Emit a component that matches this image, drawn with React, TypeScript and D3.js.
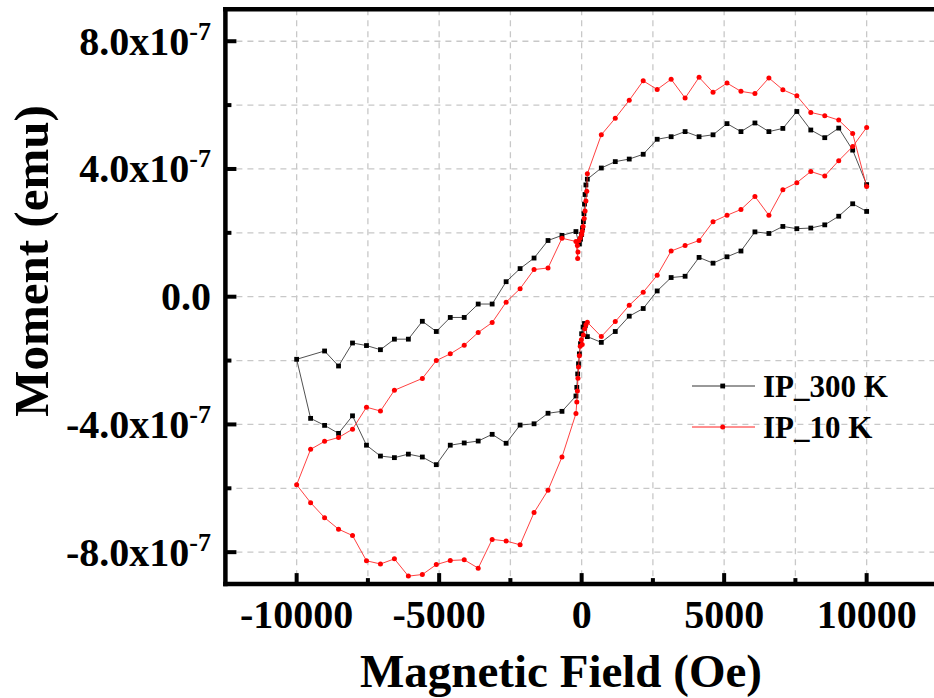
import React from "react";
import * as d3 from "d3";

// ---------- data (moment in units of 1e-7 emu, field in Oe) ----------
const ip300K: [number, number][] = [
  [10000, 3.51], [9510, 4.59], [9020, 5.28], [8530, 4.98], [8040, 5.22], [7550, 5.8], [7060, 5.27],
  [6570, 5.17], [6080, 5.44], [5590, 5.17], [5100, 5.42], [4610, 5.07], [4120, 5.01], [3630, 5.17],
  [3140, 5.01], [2650, 4.93], [2160, 4.46], [1670, 4.31], [1180, 4.23], [690, 4.03], [200, 3.68],
  [150, 3.5], [120, 3.2], [100, 2.9], [80, 2.6], [60, 2.35], [30, 2.15], [0, 1.95], [-40, 1.8],
  [-80, 1.65], [-110, 1.7],
  [-200, 2.04], [-690, 1.92], [-1180, 1.76], [-1670, 1.21], [-2160, 0.88], [-2650, 0.47],
  [-3140, -0.23], [-3630, -0.23], [-4120, -0.65], [-4610, -0.65], [-5100, -1.09], [-5590, -0.77],
  [-6080, -1.33], [-6570, -1.33], [-7060, -1.66], [-7550, -1.53], [-8040, -1.45], [-8530, -2.17],
  [-9020, -1.7], [-10000, -1.96],
  [-9510, -3.81], [-9020, -4.03], [-8530, -4.28], [-8040, -3.73], [-7550, -4.65], [-7060, -4.99],
  [-6570, -5.04], [-6080, -4.93], [-5590, -5.02], [-5100, -5.26], [-4610, -4.65], [-4120, -4.58],
  [-3630, -4.52], [-3140, -4.31], [-2650, -4.59], [-2160, -4.02], [-1670, -3.98], [-1180, -3.65],
  [-690, -3.59], [-200, -3.11],
  [-170, -2.84], [-140, -2.42], [-110, -2.1], [-80, -1.79], [-40, -1.47], [0, -1.16], [50, -0.95],
  [100, -0.84], [130, -0.9],
  [200, -1.25], [690, -1.43], [1180, -1.09], [1670, -0.61], [2160, -0.37], [2650, 0.18], [3140, 0.6],
  [3630, 0.64], [4120, 1.23], [4610, 1.05], [5100, 1.25], [5590, 1.43], [6080, 2.03], [6570, 1.98],
  [7060, 2.2], [7550, 2.13], [8040, 2.15], [8530, 2.25], [9020, 2.52], [9510, 2.91], [10000, 2.67],
];

const ip10K: [number, number][] = [
  [10000, 3.45], [9510, 5.11], [9020, 5.53], [8530, 5.67], [8040, 5.77], [7550, 6.29], [7060, 6.48],
  [6570, 6.85], [6080, 6.36], [5590, 6.43], [5100, 6.69], [4610, 6.4], [4120, 6.87], [3630, 6.22],
  [3140, 6.81], [2650, 6.49], [2160, 6.76], [1670, 6.15], [1180, 5.59], [690, 5.07], [200, 3.85],
  [180, 3.3], [150, 3.0], [120, 2.68], [90, 2.45], [50, 2.2], [20, 2.05], [0, 1.95], [-50, 1.84],
  [-100, 1.75], [-150, 1.6], [-130, 1.4], [-140, 1.2],
  [-200, 1.73], [-690, 1.83], [-1180, 0.9], [-1670, 0.85], [-2160, 0.25], [-2650, -0.17],
  [-3140, -0.81], [-3630, -1.12], [-4120, -1.52], [-4610, -1.79], [-5100, -2.0], [-5590, -2.56],
  [-6570, -2.93], [-7060, -3.58], [-7550, -3.46], [-8040, -4.15], [-8530, -4.41], [-9020, -4.53],
  [-9510, -4.78], [-10000, -5.89],
  [-9510, -6.45], [-9020, -6.92], [-8530, -7.28], [-8040, -7.48], [-7550, -8.27], [-7060, -8.37],
  [-6570, -8.21], [-6080, -8.75], [-5590, -8.7], [-5100, -8.39], [-4610, -8.26], [-4120, -8.24],
  [-3630, -8.5], [-3140, -7.6], [-2650, -7.65], [-2160, -7.77], [-1670, -6.76], [-1180, -6.06],
  [-690, -5.02], [-200, -3.66],
  [-170, -3.3], [-150, -2.95], [-130, -2.55], [-110, -2.2], [-80, -1.85], [-50, -1.55], [-10, -1.35],
  [20, -1.5], [60, -1.2], [110, -1.0], [150, -0.88],
  [200, -0.8], [690, -1.25], [1180, -0.78], [1670, -0.27], [2160, 0.14], [2650, 0.67], [3140, 1.43],
  [3630, 1.6], [4120, 1.76], [4610, 2.35], [5100, 2.55], [5590, 2.73], [6080, 3.14], [6570, 2.55],
  [7060, 3.35], [7550, 3.57], [8040, 3.92], [8530, 3.78], [9020, 4.26], [9510, 4.7], [10000, 5.3],
];

const seriesNames = ["IP_300 K", "IP_10 K"];
const xMajorTicks = [-10000, -5000, 0, 5000, 10000];
const xMinorTicks = [-7500, -2500, 2500, 7500];
const xGrid = [-10000, -7500, -5000, -2500, 0, 2500, 5000, 7500, 10000];
const yMajorTicks = [-8, -4, 0, 4, 8];
const yMinorTicks = [-6, -2, 2, 6];
const yGrid = [-8, -6, -4, -2, 0, 2, 4, 6, 8];
const yTickMantissa = ["-8.0", "-4.0", "0.0", "4.0", "8.0"];
const yTickExponent = ["-7", "-7", "", "-7", "-7"];
const xTitle = "Magnetic Field (Oe)";
const yTitle = "Moment (emu)";

const FONT = "'Liberation Serif', 'Times New Roman', serif";

export default function App() {
  const x = d3.scaleLinear().domain([-12500, 12500]).range([225.4, 937.9]);
  const y = d3.scaleLinear().domain([-9, 9]).range([584.1, 9.3]);
  const line = d3
    .line<[number, number]>()
    .x((d) => x(d[0]))
    .y((d) => y(d[1]));

  const xL = x(-12500);
  const xR = x(12500);
  const yT = y(9);
  const yB = y(-9);

  return (
    <svg
      width={934}
      height={698}
      style={{ position: "absolute", left: 0, top: 0, background: "#fff" }}
    >
      <rect x={0} y={0} width={934} height={698} fill="#fff" />
      {/* grid */}
      <g stroke="#c8c8c8" strokeWidth={1.3} strokeDasharray="6,5">
        {xGrid.map((v) => (
          <line key={"gx" + v} x1={x(v)} x2={x(v)} y1={yT} y2={yB} />
        ))}
        {yGrid.map((v) => (
          <line key={"gy" + v} x1={xL} x2={xR} y1={y(v)} y2={y(v)} />
        ))}
      </g>

      {/* series */}
      <path d={line(ip300K) || ""} fill="none" stroke="#333" strokeWidth={1} strokeOpacity={0.85} />
      {ip300K.map((d, i) => (
        <rect key={"b" + i} x={x(d[0]) - 2.4} y={y(d[1]) - 2.4} width={4.8} height={4.8} fill="#000" />
      ))}
      <path d={line(ip10K) || ""} fill="none" stroke="#ff2020" strokeWidth={1} strokeOpacity={0.85} />
      {ip10K.map((d, i) => (
        <circle key={"r" + i} cx={x(d[0])} cy={y(d[1])} r={2.5} fill="#ff0000" />
      ))}

      {/* axes frame */}
      <g stroke="#000" strokeWidth={4.5} strokeLinecap="square">
        <line x1={xL} x2={xL} y1={yT} y2={yB} />
        <line x1={xL} x2={xR + 5} y1={yB} y2={yB} />
        <line x1={xL} x2={xR + 5} y1={yT} y2={yT} />
      </g>
      {/* ticks */}
      <g stroke="#000" strokeWidth={4}>
        {xMajorTicks.map((v) => (
          <line key={"tx" + v} x1={x(v)} x2={x(v)} y1={yB} y2={yB - 11} />
        ))}
        {xMinorTicks.map((v) => (
          <line key={"mx" + v} x1={x(v)} x2={x(v)} y1={yB} y2={yB - 6} />
        ))}
        {yMajorTicks.map((v) => (
          <line key={"ty" + v} x1={xL} x2={xL + 11} y1={y(v)} y2={y(v)} />
        ))}
        {yMinorTicks.map((v) => (
          <line key={"my" + v} x1={xL} x2={xL + 6} y1={y(v)} y2={y(v)} />
        ))}
      </g>

      {/* tick labels */}
      <g fontFamily={FONT} fontWeight="bold" fill="#000">
        {xMajorTicks.map((v) => (
          <text key={"lx" + v} x={x(v)} y={628} fontSize={40} textAnchor="middle">
            {String(v)}
          </text>
        ))}
        {yMajorTicks.map((v, i) => (
          <text key={"ly" + v} x={211} y={y(v) + 13.5} fontSize={40} textAnchor="end">
            {yTickMantissa[i]}
            {yTickExponent[i] ? "x10" : ""}
            {yTickExponent[i] ? (
              <tspan dy={-15} fontSize={26}>
                {yTickExponent[i]}
              </tspan>
            ) : null}
          </text>
        ))}
        <text x={561} y={687} fontSize={47} textAnchor="middle">
          {xTitle}
        </text>
        <text
          transform={`translate(48, 261) rotate(-90)`}
          fontSize={49}
          textAnchor="middle"
        >
          {yTitle}
        </text>
      </g>

      {/* legend */}
      <g>
        <line x1={692} x2={755} y1={386} y2={386} stroke="#333" strokeWidth={1} />
        <rect x={722.7 - 2.4} y={386 - 2.4} width={4.8} height={4.8} fill="#000" />
        <line x1={692} x2={755} y1={427} y2={427} stroke="#ff2020" strokeWidth={1} />
        <circle cx={722.7} cy={427} r={2.5} fill="#ff0000" />
        <text x={763} y={397} fontFamily={FONT} fontWeight="bold" fontSize={31}>
          {seriesNames[0]}
        </text>
        <text x={763} y={437.5} fontFamily={FONT} fontWeight="bold" fontSize={31}>
          {seriesNames[1]}
        </text>
      </g>
    </svg>
  );
}
